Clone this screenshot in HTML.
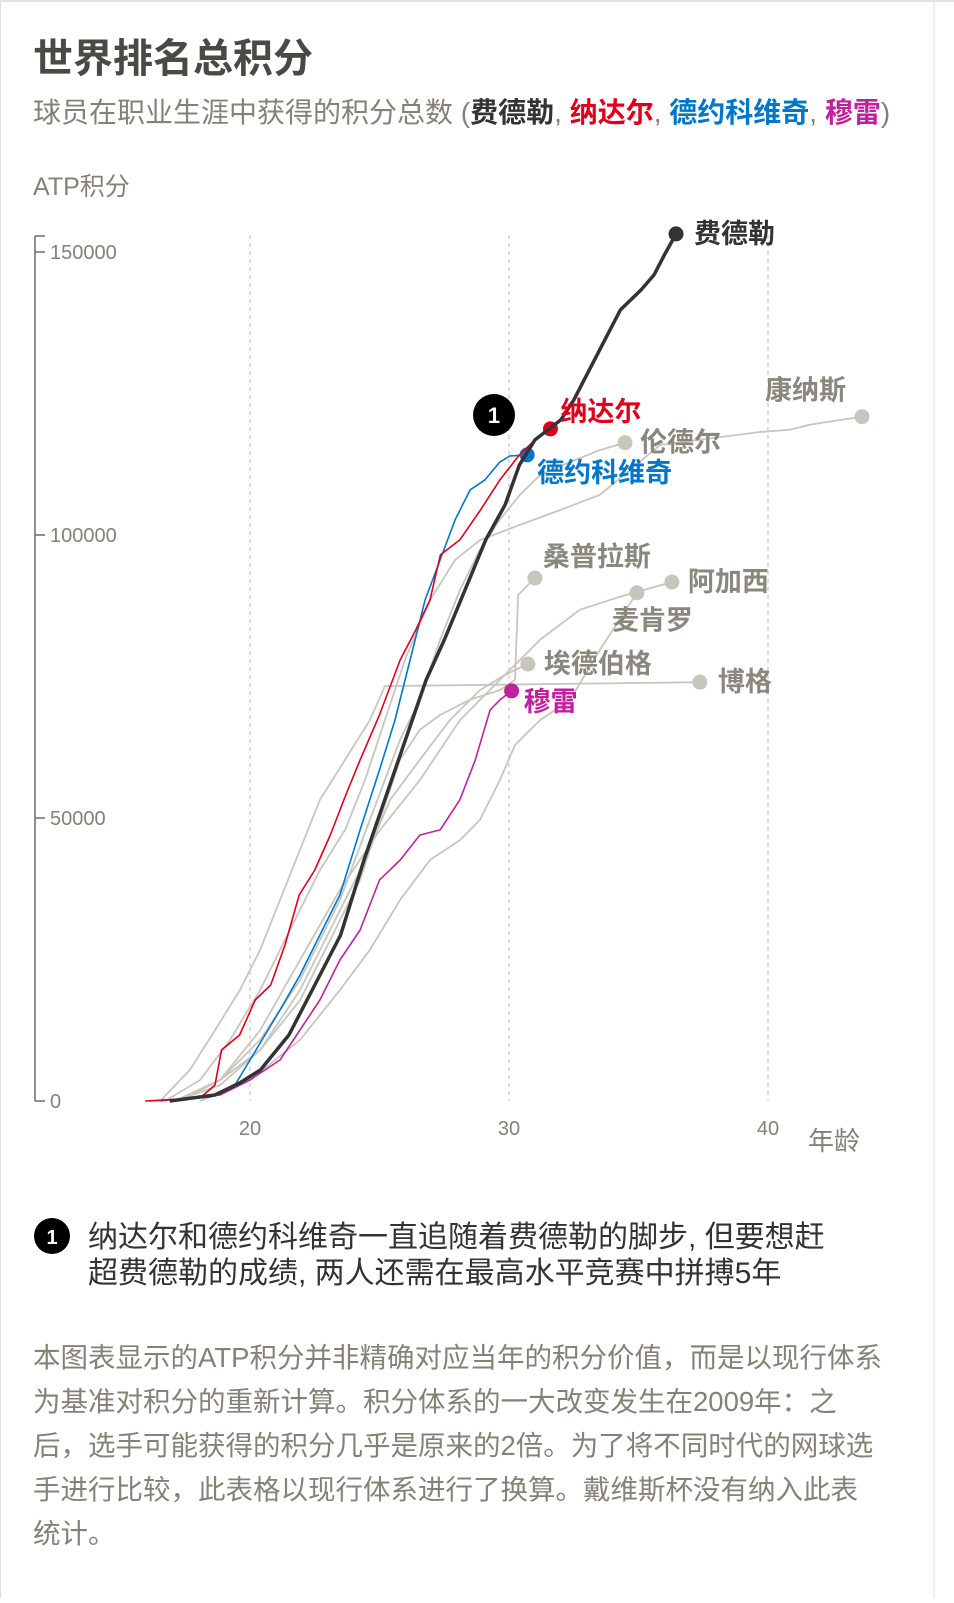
<!DOCTYPE html>
<html><head><meta charset="utf-8">
<style>
html,body{margin:0;padding:0;background:#fff;}
body{width:954px;height:1598px;overflow:hidden;font-family:"Liberation Sans","Noto Sans CJK SC",sans-serif;}
svg text{font-family:"Liberation Sans","Noto Sans CJK SC",sans-serif;}
</style></head>
<body>
<svg id="chart" width="954" height="1598" viewBox="0 0 954 1598" xmlns="http://www.w3.org/2000/svg">
<rect x="0.5" y="1" width="933.5" height="1600" fill="#fff" stroke="#dedede" stroke-width="1"/>
<rect x="0" y="0" width="954" height="2" fill="#e2e2e2"/>
<text x="33" y="72" font-size="40" font-weight="bold" fill="#4a4944">世界排名总积分</text>
<text x="33" y="122" font-size="28" fill="#858177">球员在职业生涯中获得的积分总数 (<tspan font-weight="bold" fill="#333">费德勒</tspan>, <tspan font-weight="bold" fill="#e0001b">纳达尔</tspan>, <tspan font-weight="bold" fill="#0077c8">德约科维奇</tspan>, <tspan font-weight="bold" fill="#c0229e">穆雷</tspan>)</text>
<text x="33" y="195" font-size="25" fill="#858177">ATP积分</text>
<g id="grid"></g>
<g id="axes"></g>
<g id="series"></g>
<g id="labels"></g>
<g>
<circle cx="494" cy="415" r="21" fill="#000"/>
<text x="494" y="423" font-size="22" font-weight="bold" fill="#fff" text-anchor="middle">1</text>
</g>
<text x="808" y="1150" font-size="26" fill="#858177">年龄</text>
<g>
<circle cx="52" cy="1236" r="18" fill="#000"/>
<text x="52" y="1244" font-size="20" font-weight="bold" fill="#fff" text-anchor="middle">1</text>
</g>
<text font-size="30" fill="#333">
<tspan x="88" y="1247">纳达尔和德约科维奇一直追随着费德勒的脚步, 但要想赶</tspan>
<tspan x="88" y="1283">超费德勒的成绩, 两人还需在最高水平竞赛中拼搏5年</tspan>
</text>
<text font-size="27.5" fill="#858177">
<tspan x="33" y="1367">本图表显示的ATP积分并非精确对应当年的积分价值，而是以现行体系</tspan>
<tspan x="33" y="1411">为基准对积分的重新计算。积分体系的一大改变发生在2009年：之</tspan>
<tspan x="33" y="1455">后，选手可能获得的积分几乎是原来的2倍。为了将不同时代的网球选</tspan>
<tspan x="33" y="1499">手进行比较，此表格以现行体系进行了换算。戴维斯杯没有纳入此表</tspan>
<tspan x="33" y="1543">统计。</tspan>
</text>
</svg>
<script>
const yTicks=[0,50000,100000,150000];
const xTicks=[20,30,40];
const playerNames=["borg","connors","lendl","sampras","agassi","mcenroe","edberg","murray","djokovic","nadal","federer"];
const borgAges=[16.53,17.68,18.65,19.61,20.39,21.16,21.93,22.7,23.67,24.63,25.21,37.37];
const borgPts=[0,5500,12500,19600,26700,35500,44400,53200,60300,67300,73300,74000];
const connorsAges=[16.72,18.07,19.23,20.39,21.54,22.7,23.67,24.44,25.21,25.98,26.95,27.92,28.88,30.42,31.97,33.51,34.67,35.83,38.15,39.69,40.85,41.62,43.63];
const connorsPts=[0,3700,10800,19600,30200,40800,47900,56700,67300,77900,88500,95600,99100,101800,104400,107100,111500,115900,117300,118200,118600,119500,120900];
const lendlAges=[17.1,18.84,20.39,21.93,23.47,24.63,25.79,26.56,27.34,28.11,28.88,29.65,30.42,31.2,32.36,33.51,34.48];
const lendlPts=[0,3700,10800,21400,35500,49700,63800,70900,81500,90300,97400,102700,107100,110600,112900,115000,116300];
const samprasAges=[17.1,18.84,20.39,21.93,23.09,24.25,25.02,25.79,26.56,27.34,28.49,29.65,30.23,30.35,31.0];
const samprasPts=[0,2800,9000,17800,28400,39100,49700,60300,65600,68200,70900,72600,74400,89400,92400];
const agassiAges=[17.3,18.84,20.39,21.93,23.47,25.02,26.56,28.11,29.65,31.2,32.74,34.29,35.44,36.29];
const agassiPts=[0,3700,12500,24900,37300,47900,56700,67300,74400,81500,86800,89100,90600,91700];
const mcenroeAges=[18.07,20,21.93,23.47,24.63,25.79,26.95,28.11,28.88,29.65,30.23,31.2,32.36,33.51,34.94];
const mcenroePts=[0,3700,10800,19600,26700,35500,42600,46100,49700,56700,62900,67300,70900,79700,89800];
const edbergAges=[17.1,18.84,20.39,21.93,23.09,24.25,25.41,26.56,27.72,28.88,29.85,30.73];
const edbergPts=[0,3700,9000,19600,30200,40800,53200,60300,67300,72600,75300,77200];
const murrayAges=[16.5,18.84,20,21.16,21.93,22.7,23.47,24.25,25.0,25.8,26.56,27.34,28.1,28.7,29.27,29.65,30.1];
const murrayPts=[0,1060,3710,7240,12550,17850,24910,30220,39050,42580,47000,47890,53190,60260,69090,70860,72450];
const djokovicAges=[16.14,18.46,19.42,20.0,20.58,21.16,21.93,22.7,23.47,24.25,25.0,25.6,26.18,26.76,27.34,27.92,28.5,29.07,29.65,30.04,30.7];
const djokovicPts=[0,710,2830,7240,11660,16080,22260,29330,36400,47890,58490,67320,77930,88530,95590,102670,107970,109730,112910,113980,114150];
const nadalAges=[15.95,18.07,18.65,18.9,19.6,20.2,20.8,21.35,21.9,22.5,23.1,23.7,24.25,25.0,25.8,26.4,26.95,27.35,28.1,28.9,29.65,30.4,31.0,31.6];
const nadalPts=[0,530,2830,9010,11660,17850,20500,27570,36400,40820,47000,54070,60260,68210,77930,83230,88530,96480,99130,104430,109730,114150,116800,118740];
const federerAges=[16.9,18.65,19.6,20.4,21.5,22.5,23.5,24.4,25.2,26.0,26.8,27.5,28.3,29.1,29.85,30.4,31.0,32.0,32.5,33.1,33.7,34.3,35.1,35.6,36.0,36.45];
const federerPts=[0,1060,3180,5480,11660,20500,29330,42580,53190,63790,74390,81460,90290,99130,105310,112380,116800,120330,123870,129170,134470,139770,143300,145950,149480,153200];
const labelTexts=["博格","康纳斯","伦德尔","桑普拉斯","阿加西","麦肯罗","埃德伯格","穆雷","德约科维奇","纳达尔","费德勒"];

const NS="http://www.w3.org/2000/svg";
const X0=250, PXY=25.9, Y0=1101, YS=849/150000;
function xs(a){return X0+(a-20)*PXY;}
function ys(v){return Y0-v*YS;}
function mk(tag,attrs,parent){const e=document.createElementNS(NS,tag);for(const k in attrs)e.setAttribute(k,attrs[k]);parent.appendChild(e);return e;}

const grid=document.getElementById('grid'), axes=document.getElementById('axes'), series=document.getElementById('series'), labels=document.getElementById('labels');
xTicks.forEach(t=>{
  const l=mk('line',{x1:xs(t),x2:xs(t),y1:235,y2:Y0,stroke:'#d2d2d2','stroke-width':1.5,'stroke-dasharray':'4,4'},grid);
  
  
  const tx=mk('text',{x:xs(t),y:1135,'font-size':20,fill:'#858177','text-anchor':'middle'},axes);
  tx.textContent=t;
  
  
});
const ax=mk('line',{x1:35,x2:35,y1:ys(150000)-16,y2:Y0,stroke:'#6e6c64','stroke-width':1.5},axes);


mk('line',{x1:35,x2:45,y1:ys(150000)-16,y2:ys(150000)-16,stroke:'#6e6c64','stroke-width':1.5},axes);
yTicks.forEach(t=>{
  mk('line',{x1:35,x2:45,y1:ys(t),y2:ys(t),stroke:'#6e6c64','stroke-width':1.5},axes);
  const tx=mk('text',{x:50,y:ys(t)+7,'font-size':20,fill:'#858177'},axes);
  tx.textContent=t;
  
  
});

const data={borg:[borgAges,borgPts],connors:[connorsAges,connorsPts],lendl:[lendlAges,lendlPts],sampras:[samprasAges,samprasPts],agassi:[agassiAges,agassiPts],mcenroe:[mcenroeAges,mcenroePts],edberg:[edbergAges,edbergPts],murray:[murrayAges,murrayPts],djokovic:[djokovicAges,djokovicPts],nadal:[nadalAges,nadalPts],federer:[federerAges,federerPts]};
const colors={murray:'#c0229e',djokovic:'#0077c8',nadal:'#e0001b',federer:'#333333'};
const labelOffsets={borg:[18,9],connors:[-97,-17],lendl:[15,9],sampras:[8,-12],agassi:[16,9],mcenroe:[-25,37],edberg:[16,9],murray:[12,20],djokovic:[10,27],nadal:[10,-8],federer:[18,9]};

playerNames.forEach((p,i)=>{
  const [ag,pt]=data[p];
  const c=colors[p]||'#c8c5bd';
  const w=p==='federer'?3.5:(colors[p]?1.6:1.8);
  let d='';
  ag.forEach((a,j)=>{d+=(j?'L':'M')+xs(a).toFixed(1)+','+ys(pt[j]).toFixed(1);});
  const path=mk('path',{d:d,fill:'none',stroke:c,'stroke-width':w,'stroke-linejoin':'round'},series);
  
  
  const n=ag.length-1;
  const dot=mk('circle',{cx:xs(ag[n]),cy:ys(pt[n]),r:7.5,fill:c},series);
  
  
  const off=labelOffsets[p];
  const lt=mk('text',{x:xs(ag[n])+off[0],y:ys(pt[n])+off[1],'font-size':27,'font-weight':'bold',fill:colors[p]||'#8a877e'},labels);
  lt.textContent=labelTexts[i];
  
  
});
</script>
</body></html>
